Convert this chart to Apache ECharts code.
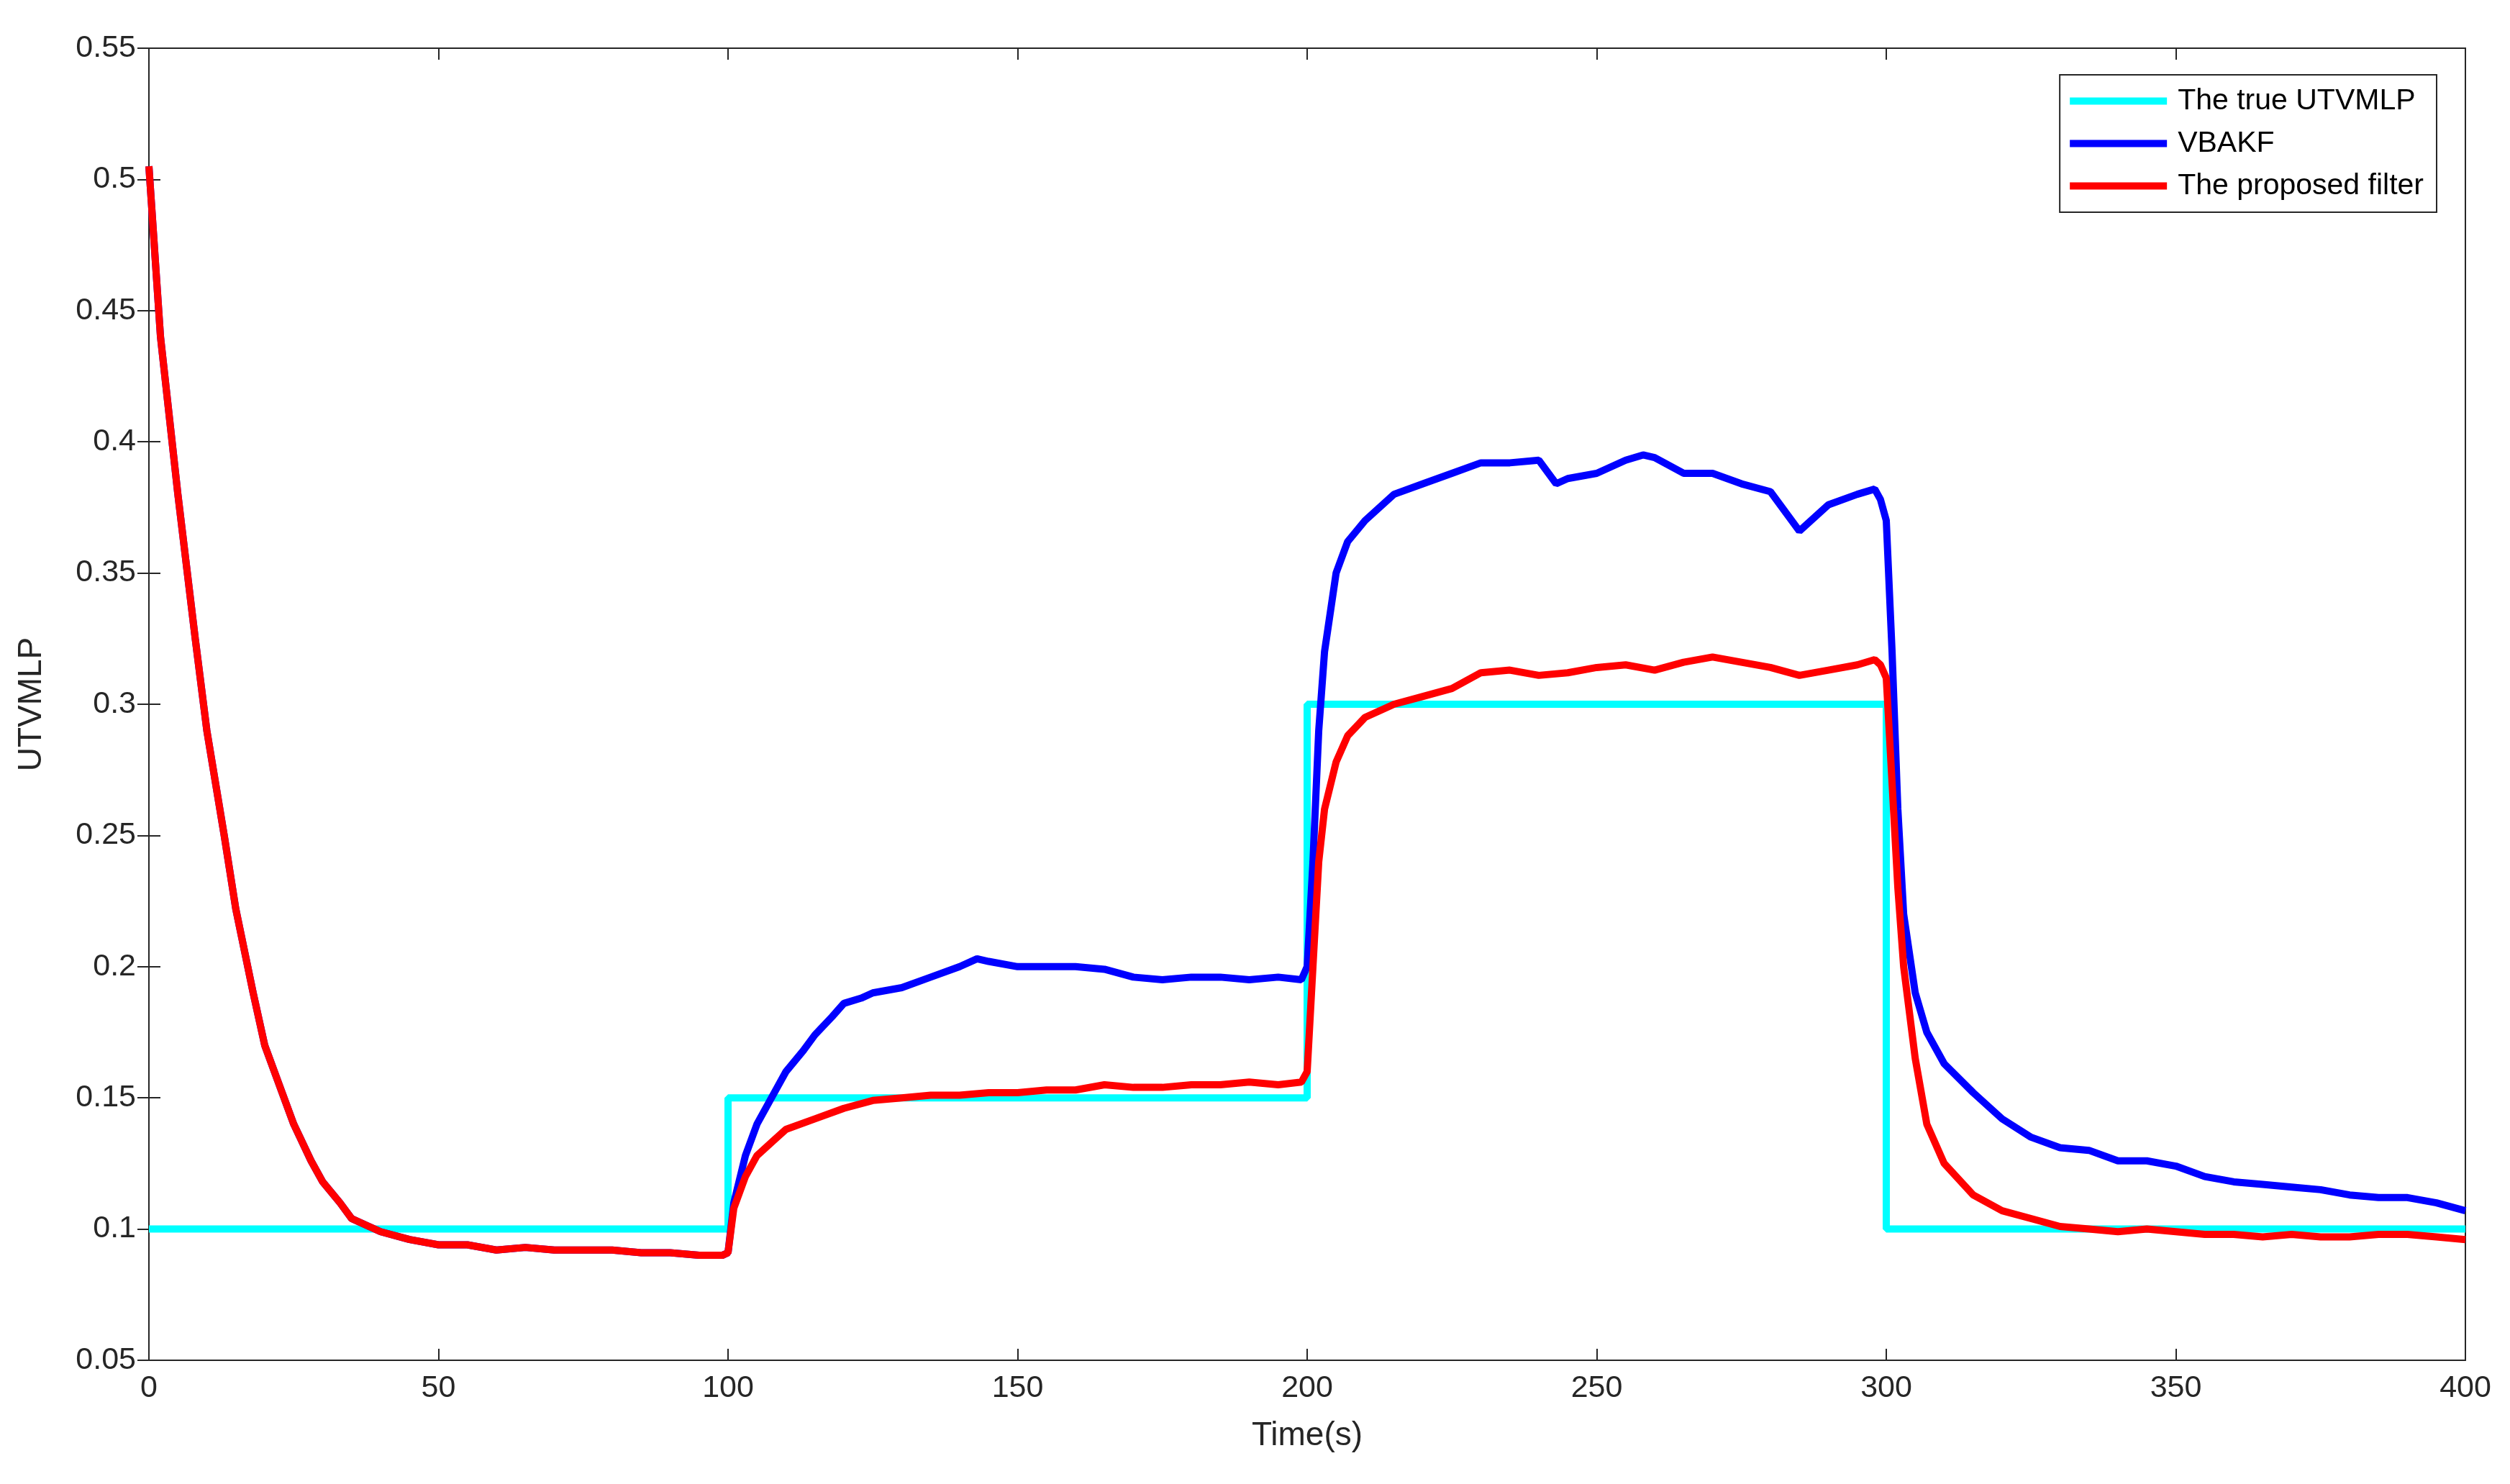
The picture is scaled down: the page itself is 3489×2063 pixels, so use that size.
<!DOCTYPE html>
<html><head><meta charset="utf-8">
<script src="https://cdn.jsdelivr.net/npm/echarts@6/dist/echarts.min.js"></script>
<style>html,body{margin:0;background:#fff}#c{width:3489px;height:2063px}</style></head>
<body><div id="c"></div>
<script>
const trueT=[0,100,100,200,200,300,300,400];
const trueV=[0.1,0.1,0.15,0.15,0.3,0.3,0.1,0.1];
const redT=[0,2,5,8,10,13,15,18,20,23,25,28,30,33,35,38,40,45,50,55,60,65,70,75,80,85,90,95,99,100,101,103,105,108,110,115,120,125,130,135,140,145,150,155,160,165,170,175,180,185,190,195,199,200,201,202,203,205,207,210,215,220,225,230,235,240,245,250,255,260,265,270,275,280,285,290,295,298,299,300,301,302,303,305,307,310,315,320,325,330,335,340,345,350,355,360,365,370,375,380,385,390,395,400];
const redV=[0.505,0.44,0.38,0.325,0.29,0.25,0.222,0.19,0.17,0.152,0.14,0.126,0.118,0.11,0.104,0.101,0.099,0.096,0.094,0.094,0.092,0.093,0.092,0.092,0.092,0.091,0.091,0.09,0.09,0.091,0.108,0.12,0.128,0.134,0.138,0.142,0.146,0.149,0.15,0.151,0.151,0.152,0.152,0.153,0.153,0.155,0.154,0.154,0.155,0.155,0.156,0.155,0.156,0.16,0.2,0.24,0.26,0.278,0.288,0.295,0.3,0.303,0.306,0.312,0.313,0.311,0.312,0.314,0.315,0.313,0.316,0.318,0.316,0.314,0.311,0.313,0.315,0.317,0.315,0.31,0.27,0.23,0.2,0.165,0.14,0.125,0.113,0.107,0.104,0.101,0.1,0.099,0.1,0.099,0.098,0.098,0.097,0.098,0.097,0.097,0.098,0.098,0.097,0.096];
const blueT=[0,2,5,8,10,13,15,18,20,23,25,28,30,33,35,38,40,45,50,55,60,65,70,75,80,85,90,95,99,100,101,103,105,108,110,113,115,118,120,123,125,130,135,140,143,145,150,155,160,165,170,175,180,185,190,195,199,200,201,202,203,205,207,210,215,220,225,230,235,240,243,245,250,255,258,260,265,270,275,280,285,290,295,298,299,300,301,302,303,305,307,310,315,320,325,330,335,340,345,350,355,360,365,370,375,380,385,390,395,400];
const blueV=[0.505,0.44,0.38,0.325,0.29,0.25,0.222,0.19,0.17,0.152,0.14,0.126,0.118,0.11,0.104,0.101,0.099,0.096,0.094,0.094,0.092,0.093,0.092,0.092,0.092,0.091,0.091,0.09,0.09,0.091,0.11,0.128,0.14,0.152,0.16,0.168,0.174,0.181,0.186,0.188,0.19,0.192,0.196,0.2,0.203,0.202,0.2,0.2,0.2,0.199,0.196,0.195,0.196,0.196,0.195,0.196,0.195,0.2,0.24,0.29,0.32,0.35,0.362,0.37,0.38,0.384,0.388,0.392,0.392,0.393,0.384,0.386,0.388,0.393,0.395,0.394,0.388,0.388,0.384,0.381,0.366,0.376,0.38,0.382,0.378,0.37,0.32,0.26,0.22,0.19,0.175,0.163,0.152,0.142,0.135,0.131,0.13,0.126,0.126,0.124,0.12,0.118,0.117,0.116,0.115,0.113,0.112,0.112,0.11,0.107];
const zip=(a,b)=>a.map((t,i)=>[t,b[i]]);
const f='Arial, Liberation Sans, sans-serif';
const fmt=v=>String(+v.toFixed(2));
const ax=(show)=>({axisLine:{show:true,lineStyle:{color:'#262626',width:2}},axisTick:{show:true,inside:true,length:16,lineStyle:{color:'#262626',width:2}},axisLabel:{show:show,color:'#262626',fontSize:43,fontFamily:f,margin:18,formatter:fmt},splitLine:{show:false}});
const c=echarts.init(document.getElementById('c'));
c.setOption({
 animation:false,
 grid:{left:207,right:62,top:67,bottom:172,show:true,borderColor:'#262626',borderWidth:2},
 legend:{orient:'vertical',right:102,top:104,itemWidth:135,itemHeight:10,itemGap:18,padding:[16,18,16,14],backgroundColor:'#fff',borderColor:'#262626',borderWidth:2,textStyle:{fontSize:41,fontFamily:f,color:'#000',padding:[0,0,0,10]},
  data:[{name:'The true UTVMLP',icon:'rect'},{name:'VBAKF',icon:'rect'},{name:'The proposed filter',icon:'rect'}]},
 xAxis:[Object.assign({type:'value',min:0,max:400,interval:50,name:'Time(s)',nameLocation:'middle',nameGap:82,nameTextStyle:{fontSize:46,fontFamily:f,color:'#262626'}},ax(true)),
        Object.assign({type:'value',min:0,max:400,interval:50,position:'top'},ax(false))],
 yAxis:[Object.assign({type:'value',min:0.05,max:0.55,interval:0.05,name:'UTVMLP',nameLocation:'middle',nameGap:140,nameTextStyle:{fontSize:46,fontFamily:f,color:'#262626'}},ax(true)),
        Object.assign({type:'value',min:0.05,max:0.55,interval:0.05,position:'right'},ax(false))],
 series:[
  {name:'The true UTVMLP',type:'line',data:zip(trueT,trueV),showSymbol:false,lineStyle:{color:'#00FFFF',width:10},itemStyle:{color:'#00FFFF'}},
  {name:'VBAKF',type:'line',data:zip(blueT,blueV),showSymbol:false,lineStyle:{color:'#0000FF',width:10},itemStyle:{color:'#0000FF'}},
  {name:'The proposed filter',type:'line',data:zip(redT,redV),showSymbol:false,lineStyle:{color:'#FF0000',width:10},itemStyle:{color:'#FF0000'}}
 ]
});
</script></body></html>
